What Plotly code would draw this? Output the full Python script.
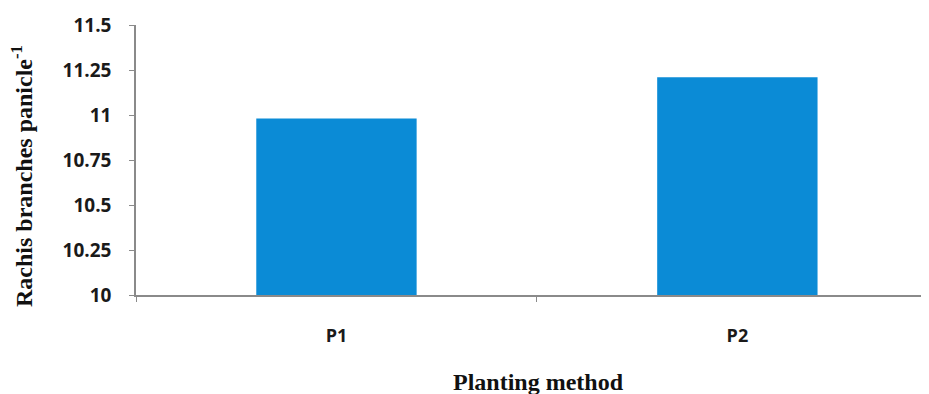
import plotly.graph_objects as go

categories = ["P1", "P2"]
values = [10.98, 11.21]
y_tick_vals = [10, 10.25, 10.5, 10.75, 11, 11.25, 11.5]
y_tick_text = ["10", "10.25", "10.5", "10.75", "11", "11.25", "11.5"]
x_title = "<b>Planting method</b>"
y_title = "<b>Rachis branches panicle<sup>-1</sup></b>"

fig = go.Figure()
fig.add_trace(go.Bar(
    x=categories, y=values, width=0.4,
    marker=dict(color="#0B8BD6", line=dict(width=0)),
))

OFF = 8  # default page body margin
W, H = 929 - OFF, 394 - OFF
L, R, T, B = 136 - OFF, 0, 25 - OFF, H - (295 - OFF)
pw, ph = W - L - R, H - T - B

def px_x(p):
    return (p - OFF - L) / pw

def px_y(p):
    return (H - B - (p - OFF)) / ph

fig.update_layout(
    width=W, height=H,
    margin=dict(l=L, r=R, t=T, b=B, autoexpand=False),
    paper_bgcolor="white", plot_bgcolor="white",
    showlegend=False,
    xaxis=dict(
        range=[-0.5, 1.478], automargin=False,
        showline=True, linecolor="#8a8a8a", linewidth=1.5,
        ticks="outside", tickson="boundaries", ticklen=5, tickcolor="#8a8a8a",
        ticklabelstandoff=24,
        tickfont=dict(family="Open Sans", size=18, color="#1a1a1a", weight=700),
        showgrid=False, zeroline=False,
    ),
    yaxis=dict(
        range=[10, 11.5], automargin=False,
        tickvals=y_tick_vals, ticktext=y_tick_text,
        showline=True, linecolor="#8a8a8a", linewidth=1.5,
        ticks="outside", ticklen=5, tickcolor="#8a8a8a",
        ticklabelstandoff=14,
        tickfont=dict(family="Open Sans", size=19, color="#1a1a1a", weight=700),
        showgrid=False, zeroline=False,
    ),
    annotations=[
        dict(text=x_title, xref="paper", yref="paper",
             x=px_x(538), y=px_y(382), xanchor="center", yanchor="middle",
             showarrow=False,
             font=dict(family="Liberation Serif", size=24, color="#111111")),
        dict(text=y_title, xref="paper", yref="paper",
             x=px_x(22), y=px_y(176), xanchor="center", yanchor="middle",
             textangle=-90, showarrow=False,
             font=dict(family="Liberation Serif", size=24, color="#111111")),
    ],
)

fig.write_html(
    "out.html",
    post_script="document.documentElement.style.overflow='hidden';"
                "document.body.style.overflow='hidden';",
)
